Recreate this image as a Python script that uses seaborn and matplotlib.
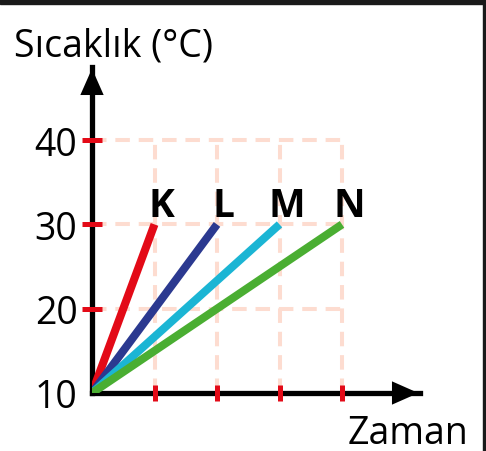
import pandas as pd
import numpy as np
import matplotlib.pyplot as plt
import seaborn as sns
from matplotlib.patches import Rectangle

# veri
maddeler = ['K', 'L', 'M', 'N']
baslangic_zaman = [0, 0, 0, 0]
baslangic_sicaklik = [10, 10, 10, 10]
bitis_zaman = [1, 2, 3, 4]
bitis_sicaklik = [30, 30, 30, 30]
renkler = ['#e30a17', '#2b3990', '#1bb5d4', '#4aae32']
y_ticks = [10, 20, 30, 40]
x_ticks = [1, 2, 3, 4]

rows = []
for m, z0, s0, z1, s1 in zip(maddeler, baslangic_zaman, baslangic_sicaklik, bitis_zaman, bitis_sicaklik):
    rows.append({'Zaman': z0, 'Sicaklik': s0, 'Madde': m})
    rows.append({'Zaman': z1, 'Sicaklik': s1, 'Madde': m})
df = pd.DataFrame(rows)

sns.set_theme(style='white')
plt.rcParams['font.family'] = ['Open Sans', 'DejaVu Sans']
plt.rcParams['text.color'] = 'black'

W, H = 486, 452
fig = plt.figure(figsize=(W / 100, H / 100), dpi=100)
x0_px, x_right_px, y0_px, y_top_px = 92, 420, 394, 68
ax = fig.add_axes([x0_px / W, 1 - y0_px / H, (x_right_px - x0_px) / W, (y0_px - y_top_px) / H])
ax.set_xlim(0, (x_right_px - x0_px) / 62.5)
ax.set_ylim(10, 10 + (y0_px - y_top_px) / 8.43)
ax.patch.set_alpha(0)

grid_kw = dict(color='#fddcd0', lw=2.9, linestyle=(0, (3.6, 2.2)), zorder=1)
ax.vlines(x_ticks, 10, max(y_ticks), **grid_kw)
ax.hlines(y_ticks[1:], 0, max(x_ticks), **grid_kw)

sns.lineplot(data=df, x='Zaman', y='Sicaklik', hue='Madde', palette=renkler,
             estimator=None, lw=5.8, legend=False, ax=ax, zorder=3,
             solid_capstyle='butt')

for m, z1, s1 in zip(maddeler, bitis_zaman, bitis_sicaklik):
    ax.annotate(m, (z1, s1), xytext=(5, 6), textcoords='offset points',
                ha='center', va='baseline', fontsize=28, fontweight='bold', color='black')

for s in ['top', 'right']:
    ax.spines[s].set_visible(False)
for s in ['left', 'bottom']:
    ax.spines[s].set_color('black')
    ax.spines[s].set_linewidth(3.8)
    ax.spines[s].set_zorder(2)
ax.xaxis.set_zorder(5)
ax.yaxis.set_zorder(5)

arrow_kw = dict(arrowstyle='-|>,head_length=0.95,head_width=0.42', color='black',
                lw=0, mutation_scale=20, shrinkA=0, shrinkB=0)
ax.annotate('', xy=(0, 0.995), xytext=(0, 0.9), xycoords='axes fraction', arrowprops=arrow_kw)
ax.annotate('', xy=(0.995, 0), xytext=(0.9, 0), xycoords='axes fraction', arrowprops=arrow_kw)

ax.set_yticks(y_ticks)
ax.set_yticklabels([str(v) for v in y_ticks])
ax.set_xticks(x_ticks)
ax.set_xticklabels([])
ax.tick_params(axis='y', direction='inout', length=15, width=3.6, color='#e30a17',
               labelsize=27, pad=3, left=True, labelcolor='black')
ax.tick_params(axis='x', direction='inout', length=12, width=3.6, color='#e30a17', bottom=True)
ax.yaxis.get_major_ticks()[0].tick1line.set_visible(False)
ax.set_xlabel('')
ax.set_ylabel('')

fig.text(14 / W, 1 - 57 / H, 'Sıcaklık (°C)', fontsize=27, va='baseline', ha='left', color='black')
fig.text(468 / W, 1 - 444 / H, 'Zaman', fontsize=27, va='baseline', ha='right', color='black')

fig.patches.append(Rectangle((0, 1 - 5 / H), 1, 5 / H, transform=fig.transFigure,
                             color='#1a1a1a', zorder=10))
fig.patches.append(Rectangle((1 - 3 / W, 0), 3 / W, 1, transform=fig.transFigure,
                             color='#1a1a1a', zorder=10))

fig.savefig('out.png', dpi=100, facecolor='white')
